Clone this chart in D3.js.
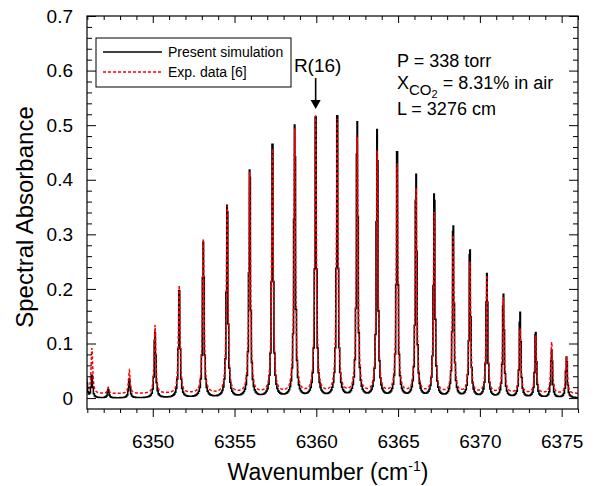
<!DOCTYPE html>
<html>
<head>
<meta charset="utf-8">
<script src="https://cdn.jsdelivr.net/npm/d3@7"></script>
<style>
  body { margin: 0; background: #fff; }
  text { font-family: "Liberation Sans", Arial, sans-serif; fill: #000; }
</style>
</head>
<body>
<svg id="chart" width="597" height="486"></svg>
<script>
// CO2 band R-branch lines (cm-1) with peak absorbance of the simulation and the measurement
const lineCenters = [6345.95, 6346.28, 6347.28, 6348.57, 6350.14, 6351.62, 6353.09, 6354.55, 6355.93,
  6357.32, 6358.68, 6359.96, 6361.28, 6362.50, 6363.72, 6364.94, 6366.10, 6367.21, 6368.37,
  6369.39, 6370.43, 6371.44, 6372.46, 6373.41, 6374.39, 6375.30];
const simHeights = [0.035, 0.042, 0.016, 0.035, 0.120, 0.197, 0.286, 0.353, 0.418,
  0.465, 0.500, 0.515, 0.517, 0.506, 0.492, 0.451, 0.410, 0.374, 0.315,
  0.271, 0.228, 0.190, 0.157, 0.120, 0.088, 0.075];
const expHeights = [0.027, 0.092, 0.020, 0.051, 0.134, 0.207, 0.292, 0.353, 0.414,
  0.457, 0.494, 0.518, 0.512, 0.479, 0.454, 0.430, 0.385, 0.341, 0.299,
  0.250, 0.225, 0.185, 0.128, 0.115, 0.103, 0.076];
const xTicks = [6350, 6355, 6360, 6365, 6370, 6375];
const yTicks = [0, 0.1, 0.2, 0.3, 0.4, 0.5, 0.6, 0.7];
const yTickLabels = ["0", "0.1", "0.2", "0.3", "0.4", "0.5", "0.6", "0.7"];
const labelLine = 6359.96;   // R(16)

const plot = { left: 87, right: 578, top: 16, bottom: 409 };
const svg = d3.select("#chart");

const x = d3.scaleLinear().domain([6345.98, 6376.0]).range([plot.left, plot.right]);
const y = d3.scaleLinear().domain([-0.02, 0.7]).range([plot.bottom, plot.top]);

// Lorentzian line shape, unit peak
const lor = (nu, c, g) => 1 / (1 + ((nu - c) / g) ** 2);

// Build a spectrum whose local maxima reach the given peak values
function spectrum(heights, hw, base, step) {
  const amps = heights.map((h, i) => {
    let wing = 0;
    heights.forEach((hj, j) => { if (j !== i) wing += hj * lor(lineCenters[i], lineCenters[j], hw); });
    return Math.max(h - wing - base, 0.001);
  });
  const [a, b] = x.domain();
  const grid = d3.range(a, b + step, step).concat(lineCenters).sort((p, q) => p - q);
  return grid.map(nu => {
    let v = base;
    lineCenters.forEach((c, i) => { v += amps[i] * lor(nu, c, hw); });
    return [nu, v];
  });
}

const simData = spectrum(simHeights, 0.055, 0.0, 0.06);
const expData = spectrum(expHeights, 0.058, 0.008, 0.015);

svg.append("clipPath").attr("id", "plotClip")
  .append("rect").attr("x", plot.left).attr("y", plot.top)
  .attr("width", plot.right - plot.left).attr("height", plot.bottom - plot.top);

const g = svg.append("g").attr("clip-path", "url(#plotClip)");

g.append("path").datum(simData)
  .attr("fill", "none").attr("stroke", "#000").attr("stroke-width", 1.6)
  .attr("d", d3.line().x(d => x(d[0])).y(d => y(d[1])).curve(d3.curveStep));

g.append("path").datum(expData)
  .attr("fill", "none").attr("stroke", "#ff0000").attr("stroke-width", 1.5)
  .attr("stroke-dasharray", "3,2")
  .attr("d", d3.line().x(d => x(d[0])).y(d => y(d[1])));

// Axes: bottom ticks outward, the other three sides inward
const xMinor = d3.range(6346, 6377, 1).filter(v => v % 5 !== 0 && v <= x.domain()[1]);
const yMinor = d3.range(1, 36).filter(k => k % 5 !== 0).map(k => k * 0.02);

function styleAxis(sel) {
  sel.select(".domain").remove();
  sel.selectAll(".tick line").attr("stroke", "#000").attr("stroke-width", 1);
  sel.selectAll("text").attr("font-size", "19px").attr("font-family", "\"Liberation Sans\", Arial, sans-serif");
}

svg.append("g").attr("transform", `translate(0,${plot.bottom})`)
  .call(d3.axisBottom(x).tickValues(xTicks).tickSize(8).tickPadding(18).tickFormat(d3.format("d")))
  .call(styleAxis);
svg.append("g").attr("transform", `translate(0,${plot.bottom})`)
  .call(d3.axisBottom(x).tickValues(xMinor).tickSize(4).tickFormat(""))
  .call(styleAxis);

svg.append("g").attr("transform", `translate(0,${plot.top})`)
  .call(d3.axisTop(x).tickValues(xTicks).tickSize(-7).tickFormat(""))
  .call(styleAxis);
svg.append("g").attr("transform", `translate(0,${plot.top})`)
  .call(d3.axisTop(x).tickValues(xMinor).tickSize(-4).tickFormat(""))
  .call(styleAxis);

svg.append("g").attr("transform", `translate(${plot.left},0)`)
  .call(d3.axisLeft(y).tickValues(yTicks).tickSize(-9).tickPadding(14)
    .tickFormat((d, i) => yTickLabels[i]))
  .call(styleAxis);
svg.append("g").attr("transform", `translate(${plot.left},0)`)
  .call(d3.axisLeft(y).tickValues(yMinor).tickSize(-5).tickFormat(""))
  .call(styleAxis);

svg.append("g").attr("transform", `translate(${plot.right},0)`)
  .call(d3.axisRight(y).tickValues(yTicks).tickSize(-9).tickFormat(""))
  .call(styleAxis);
svg.append("g").attr("transform", `translate(${plot.right},0)`)
  .call(d3.axisRight(y).tickValues(yMinor).tickSize(-5).tickFormat(""))
  .call(styleAxis);

// Frame
svg.append("rect")
  .attr("x", plot.left).attr("y", plot.top)
  .attr("width", plot.right - plot.left).attr("height", plot.bottom - plot.top)
  .attr("fill", "none").attr("stroke", "#000").attr("stroke-width", 1.2);

// Axis titles
const xt = svg.append("text").attr("x", 328).attr("y", 480)
  .attr("text-anchor", "middle").attr("font-size", "23px");
xt.append("tspan").text("Wavenumber (cm");
xt.append("tspan").attr("font-size", "14px").attr("dy", "-9").text("-1");
xt.append("tspan").attr("dy", "9").text(")");

svg.append("text").attr("transform", "translate(33,217) rotate(-90)")
  .attr("text-anchor", "middle").attr("font-size", "24px").text("Spectral Absorbance");

// Legend
const lg = svg.append("g");
lg.append("rect").attr("x", 96).attr("y", 38).attr("width", 195).attr("height", 49)
  .attr("fill", "#fff").attr("stroke", "#000").attr("stroke-width", 1);
lg.append("line").attr("x1", 103).attr("x2", 162).attr("y1", 52).attr("y2", 52)
  .attr("stroke", "#000").attr("stroke-width", 1.4);
lg.append("line").attr("x1", 103).attr("x2", 162).attr("y1", 72).attr("y2", 72)
  .attr("stroke", "#ff0000").attr("stroke-width", 1.4).attr("stroke-dasharray", "3,2");
lg.append("text").attr("x", 168).attr("y", 57).attr("font-size", "14px").text("Present simulation");
lg.append("text").attr("x", 168).attr("y", 77).attr("font-size", "14px").text("Exp. data [6]");

// R(16) marker
const ax = x(labelLine);
svg.append("text").attr("x", ax + 2).attr("y", 72).attr("text-anchor", "middle")
  .attr("font-size", "19px").text("R(16)");
svg.append("line").attr("x1", ax).attr("x2", ax).attr("y1", 78).attr("y2", 101)
  .attr("stroke", "#000").attr("stroke-width", 1.6);
svg.append("path")
  .attr("d", `M${ax - 5},100 L${ax + 5},100 L${ax},109 Z`).attr("fill", "#000");

// Measurement conditions
const info = svg.append("g").attr("font-size", "18px");
info.append("text").attr("x", 397).attr("y", 67).attr("font-size", "18px").text("P = 338 torr");
const xc = info.append("text").attr("x", 397).attr("y", 89).attr("font-size", "18px");
xc.append("tspan").text("X");
xc.append("tspan").attr("font-size", "15px").attr("dy", "6").text("CO");
xc.append("tspan").attr("font-size", "11px").attr("dy", "3").text("2");
xc.append("tspan").attr("dy", "-9").text(" = 8.31% in air");
info.append("text").attr("x", 397).attr("y", 115).attr("font-size", "18px").text("L = 3276 cm");
</script>
</body>
</html>
